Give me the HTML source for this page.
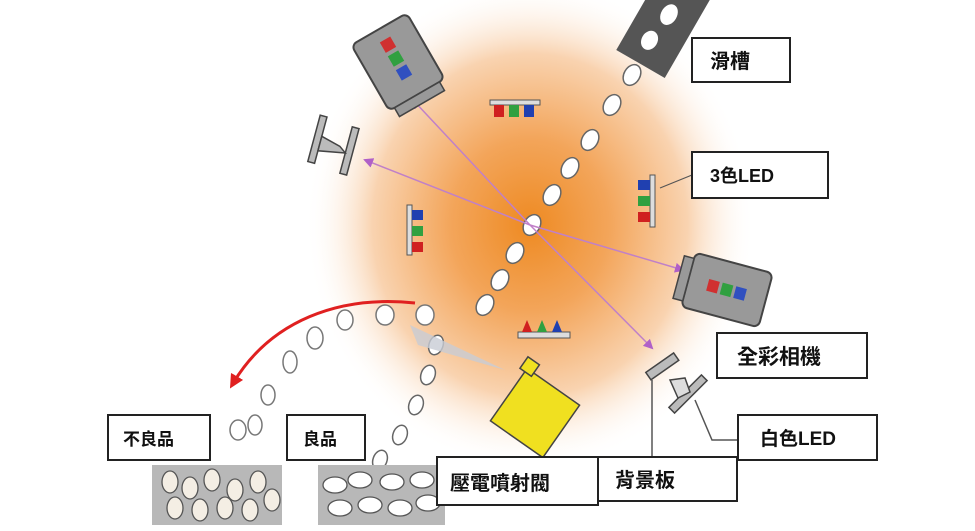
<!DOCTYPE html>
<html><head><meta charset="utf-8"><style>
html,body{margin:0;padding:0;background:#fff;}
svg{display:block;}
text{font-family:"Liberation Sans","Noto Sans CJK TC",sans-serif;font-weight:bold;fill:#111;}
</style></head><body>
<svg width="975" height="531" viewBox="0 0 975 531" xmlns="http://www.w3.org/2000/svg">
<defs>
<radialGradient id="g" cx="0.5" cy="0.5" r="0.5">
<stop offset="0" stop-color="#ee8a22"/>
<stop offset="0.35" stop-color="#f3a55a"/>
<stop offset="0.7" stop-color="#f9d3b0"/>
<stop offset="1" stop-color="#ffffff" stop-opacity="0"/>
</radialGradient>
<marker id="pa" markerWidth="10" markerHeight="10" refX="8" refY="5" orient="auto" markerUnits="userSpaceOnUse"><path d="M0,0 L10,5 L0,10 z" fill="#b060c8"/></marker>
<marker id="ra" markerWidth="14" markerHeight="14" refX="10" refY="7" orient="auto" markerUnits="userSpaceOnUse"><path d="M0,0 L14,7 L0,14 z" fill="#e02020"/></marker>
</defs>
<ellipse cx="530" cy="225" rx="225" ry="245" fill="url(#g)"/>

<!-- chute -->
<g transform="translate(663,25) rotate(30)"><rect x="-28" y="-45" width="56" height="90" fill="#555"/>
<ellipse cx="0" cy="-12" rx="8" ry="11" fill="#fff"/><ellipse cx="-4" cy="20" rx="8" ry="10" fill="#fff"/></g>

<!-- grains along chute -->
<g fill="#fff" stroke="#666" stroke-width="1.5">
<ellipse cx="632" cy="75" rx="8" ry="11" transform="rotate(30 632 75)"/>
<ellipse cx="612" cy="105" rx="8" ry="11" transform="rotate(30 612 105)"/>
<ellipse cx="590" cy="140" rx="8" ry="11" transform="rotate(30 590 140)"/>
<ellipse cx="570" cy="168" rx="8" ry="11" transform="rotate(30 570 168)"/>
<ellipse cx="552" cy="195" rx="8" ry="11" transform="rotate(30 552 195)"/>
<ellipse cx="532" cy="225" rx="8" ry="11" transform="rotate(30 532 225)"/>
<ellipse cx="515" cy="253" rx="8" ry="11" transform="rotate(30 515 253)"/>
<ellipse cx="500" cy="280" rx="8" ry="11" transform="rotate(30 500 280)"/>
<ellipse cx="485" cy="305" rx="8" ry="11" transform="rotate(30 485 305)"/>
<ellipse cx="436" cy="345" rx="7" ry="10" transform="rotate(20 436 345)"/>
<ellipse cx="428" cy="375" rx="7" ry="10" transform="rotate(20 428 375)"/>
<ellipse cx="416" cy="405" rx="7" ry="10" transform="rotate(20 416 405)"/>
<ellipse cx="400" cy="435" rx="7" ry="10" transform="rotate(20 400 435)"/>
<ellipse cx="380" cy="460" rx="7" ry="10" transform="rotate(20 380 460)"/>
</g>
<g fill="#fff" stroke="#777" stroke-width="1.5">
<ellipse cx="425" cy="315" rx="9" ry="10"/><ellipse cx="385" cy="315" rx="9" ry="10"/>
<ellipse cx="345" cy="320" rx="8" ry="10"/><ellipse cx="315" cy="338" rx="8" ry="11"/>
<ellipse cx="290" cy="362" rx="7" ry="11"/><ellipse cx="268" cy="395" rx="7" ry="10"/>
<ellipse cx="255" cy="425" rx="7" ry="10"/><ellipse cx="238" cy="430" rx="8" ry="10"/>
</g>

<!-- purple arrows -->
<g stroke="#c080c8" stroke-width="1.5" fill="none">
<line x1="530" y1="225" x2="413" y2="100" marker-end="url(#pa)"/>
<line x1="530" y1="225" x2="365" y2="160" marker-end="url(#pa)"/>
<line x1="530" y1="225" x2="683" y2="270" marker-end="url(#pa)"/>
<line x1="530" y1="225" x2="652" y2="348" marker-end="url(#pa)"/>
</g>

<!-- cameras -->
<g transform="translate(398,62) rotate(-30)">
<rect x="-32" y="-38" width="64" height="76" rx="6" fill="#999" stroke="#444" stroke-width="2"/>
<rect x="-26" y="38" width="52" height="10" fill="#999" stroke="#444" stroke-width="1.5"/>
<rect x="-6" y="-26" width="12" height="12" fill="#d03030"/><rect x="-6" y="-10" width="12" height="12" fill="#30a040"/><rect x="-6" y="6" width="12" height="12" fill="#3050c0"/>
</g>
<g transform="translate(727,290) rotate(15)">
<rect x="-40" y="-28" width="80" height="56" rx="6" fill="#999" stroke="#444" stroke-width="2"/>
<rect x="-50" y="-22" width="10" height="44" fill="#999" stroke="#444" stroke-width="1.5"/>
<rect x="-20" y="-6" width="11" height="12" fill="#d03030"/><rect x="-6" y="-6" width="11" height="12" fill="#30a040"/><rect x="8" y="-6" width="11" height="12" fill="#3050c0"/>
</g>

<!-- white LED left -->
<g transform="translate(335,145) rotate(15)" fill="#bbb" stroke="#444" stroke-width="1.5">
<rect x="-22" y="-25" width="7" height="48"/><rect x="12" y="-22" width="7" height="48"/><path d="M-15,-5 L5,0 L12,5 L-15,10 z"/></g>
<!-- white LED right & background plate -->
<g fill="#bbb" stroke="#444" stroke-width="1.5">
<rect x="645" y="362" width="34" height="9" transform="rotate(-35 662 366)"/>
<rect x="665" y="390" width="46" height="8" transform="rotate(-45 688 394)"/>
<path d="M670,380 L685,378 L690,392 L678,398 z" fill="#ddd"/>
</g>
<line x1="652" y1="380" x2="652" y2="457" stroke="#555" stroke-width="1.5"/>
<polyline points="695,400 712,440 738,440" fill="none" stroke="#555" stroke-width="1.5"/>
<line x1="660" y1="188" x2="692" y2="175" stroke="#555" stroke-width="1.2"/>

<!-- 3-color LEDs -->
<g><rect x="490" y="100" width="50" height="5" fill="#ddd" stroke="#555"/>
<rect x="494" y="105" width="10" height="12" fill="#d02020"/><rect x="509" y="105" width="10" height="12" fill="#30a040"/><rect x="524" y="105" width="10" height="12" fill="#2040b0"/></g>
<g><rect x="407" y="205" width="5" height="50" fill="#ddd" stroke="#555"/>
<rect x="412" y="210" width="11" height="10" fill="#2040b0"/><rect x="412" y="226" width="11" height="10" fill="#30a040"/><rect x="412" y="242" width="11" height="10" fill="#d02020"/></g>
<g><rect x="650" y="175" width="5" height="52" fill="#ddd" stroke="#555"/>
<rect x="638" y="180" width="12" height="10" fill="#2040b0"/><rect x="638" y="196" width="12" height="10" fill="#30a040"/><rect x="638" y="212" width="12" height="10" fill="#d02020"/></g>
<g><rect x="518" y="332" width="52" height="6" fill="#ddd" stroke="#555"/>
<path d="M522,332 l5,-12 l5,12z" fill="#d02020"/><path d="M537,332 l5,-12 l5,12z" fill="#30a040"/><path d="M552,332 l5,-12 l5,12z" fill="#2040b0"/></g>

<!-- nozzle cone & valve -->
<path d="M505,370 L410,325 L418,345 z" fill="#c8ccd4" opacity="0.8"/>
<g transform="translate(535,413) rotate(35)"><rect x="-32" y="-32" width="64" height="64" fill="#f0e020" stroke="#444" stroke-width="1.5"/>
<rect x="-38" y="-42" width="14" height="14" fill="#f0e020" stroke="#444" stroke-width="1.5"/></g>

<!-- red arc -->
<path d="M415,303 C340,295 270,320 232,385" fill="none" stroke="#e02020" stroke-width="3" marker-end="url(#ra)"/>

<!-- bins -->
<rect x="152" y="465" width="130" height="60" fill="#b8b8b8"/>
<rect x="318" y="465" width="127" height="60" fill="#b8b8b8"/>
<g fill="#f4eee4" stroke="#555" stroke-width="1.3">
<ellipse cx="170" cy="482" rx="8" ry="11"/><ellipse cx="190" cy="488" rx="8" ry="11"/><ellipse cx="212" cy="480" rx="8" ry="11"/><ellipse cx="235" cy="490" rx="8" ry="11"/><ellipse cx="258" cy="482" rx="8" ry="11"/><ellipse cx="272" cy="500" rx="8" ry="11"/>
<ellipse cx="175" cy="508" rx="8" ry="11"/><ellipse cx="200" cy="510" rx="8" ry="11"/><ellipse cx="225" cy="508" rx="8" ry="11"/><ellipse cx="250" cy="510" rx="8" ry="11"/>
</g>
<g fill="#fff" stroke="#555" stroke-width="1.3">
<ellipse cx="335" cy="485" rx="12" ry="8"/><ellipse cx="360" cy="480" rx="12" ry="8"/><ellipse cx="392" cy="482" rx="12" ry="8"/><ellipse cx="422" cy="480" rx="12" ry="8"/>
<ellipse cx="340" cy="508" rx="12" ry="8"/><ellipse cx="370" cy="505" rx="12" ry="8"/><ellipse cx="400" cy="508" rx="12" ry="8"/><ellipse cx="428" cy="503" rx="12" ry="8"/>
</g>

<!-- label boxes -->
<g fill="#fff" stroke="#222" stroke-width="2">
<rect x="692" y="38" width="98" height="44"/>
<rect x="692" y="152" width="136" height="46"/>
<rect x="717" y="333" width="150" height="45"/>
<rect x="738" y="415" width="139" height="45"/>
<rect x="598" y="457" width="139" height="44"/>
<rect x="437" y="457" width="161" height="48"/>
<rect x="287" y="415" width="78" height="45"/>
<rect x="108" y="415" width="102" height="45"/>
</g>
<text x="710" y="68" font-size="20">滑槽</text>
<text x="710" y="182" font-size="18" font-weight="normal">3色LED</text>
<text x="737" y="364" font-size="21">全彩相機</text>
<text x="760" y="445" font-size="19" font-weight="normal">白色LED</text>
<text x="615" y="487" font-size="20">背景板</text>
<text x="450" y="490" font-size="20">壓電噴射閥</text>
<text x="303" y="445" font-size="17">良品</text>
<text x="123" y="445" font-size="17">不良品</text>
</svg>
</body></html>
